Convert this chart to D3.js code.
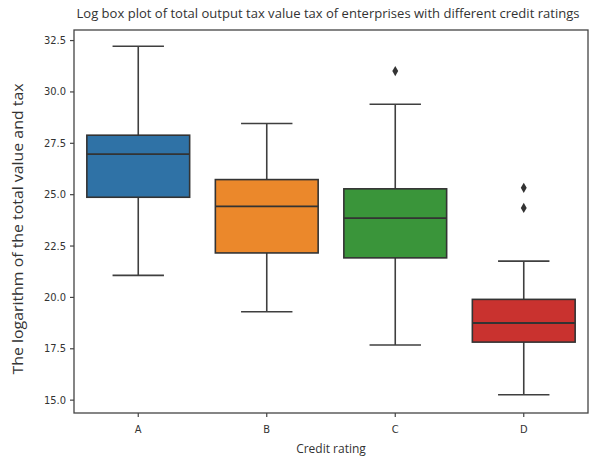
<!DOCTYPE html>
<html>
<head>
<meta charset="utf-8">
<script src="https://cdn.jsdelivr.net/npm/d3@7"></script>
<style>
  body { margin: 0; background: #fff; }
  svg text { font-family: "Open Sans", "Noto Sans", sans-serif; fill: #333; }
</style>
</head>
<body>
<svg id="chart" width="590" height="459"></svg>
<script>
// data
var ratings = ["A", "B", "C", "D"];
var whiskerLow  = [21.05, 19.28, 17.66, 15.24];
var q1          = [24.85, 22.14, 21.90, 17.80];
var median      = [26.95, 24.41, 23.83, 18.73];
var q3          = [27.87, 25.71, 25.26, 19.88];
var whiskerHigh = [32.20, 28.44, 29.38, 21.74];
var outliers    = [[], [], [30.99], [25.31, 24.33]];
var colors = ["#2f72a6", "#eb882b", "#3a953a", "#c9322f"];
var yTicks = [15, 17.5, 20, 22.5, 25, 27.5, 30, 32.5];

var svg = d3.select("#chart");
var margin = {left: 74, right: 2, top: 30, bottom: 46};
var width = 590 - margin.left - margin.right,
    height = 459 - margin.top - margin.bottom;

var g = svg.append("g").attr("transform", "translate(" + margin.left + "," + margin.top + ")");

var x = d3.scaleBand().domain(ratings).range([0, width]).padding(0);
var y = d3.scaleLinear().domain([14.35, 32.99]).range([height, 0]);

var boxW = x.bandwidth() * 0.8,
    capW = boxW * 0.5,
    lineCol = "#3f3f3f";

var boxes = ratings.map(function(r, i) {
  return {r: r, lo: whiskerLow[i], q1: q1[i], med: median[i], q3: q3[i], hi: whiskerHigh[i], out: outliers[i], c: colors[i]};
});

var bg = g.selectAll(".box").data(boxes).enter().append("g")
    .attr("class", "box")
    .attr("transform", function(d) { return "translate(" + (x(d.r) + x.bandwidth() / 2) + ",0)"; });

// whiskers
bg.append("line").attr("x1", 0).attr("x2", 0)
    .attr("y1", function(d) { return y(d.hi); }).attr("y2", function(d) { return y(d.q3); })
    .attr("stroke", lineCol).attr("stroke-width", 1.6);
bg.append("line").attr("x1", 0).attr("x2", 0)
    .attr("y1", function(d) { return y(d.q1); }).attr("y2", function(d) { return y(d.lo); })
    .attr("stroke", lineCol).attr("stroke-width", 1.6);
bg.append("line").attr("x1", -capW / 2).attr("x2", capW / 2)
    .attr("y1", function(d) { return y(d.hi); }).attr("y2", function(d) { return y(d.hi); })
    .attr("stroke", lineCol).attr("stroke-width", 1.6);
bg.append("line").attr("x1", -capW / 2).attr("x2", capW / 2)
    .attr("y1", function(d) { return y(d.lo); }).attr("y2", function(d) { return y(d.lo); })
    .attr("stroke", lineCol).attr("stroke-width", 1.6);

// box + median
bg.append("rect")
    .attr("x", -boxW / 2).attr("width", boxW)
    .attr("y", function(d) { return y(d.q3); })
    .attr("height", function(d) { return y(d.q1) - y(d.q3); })
    .attr("fill", function(d) { return d.c; })
    .attr("stroke", "#333").attr("stroke-width", 1.6);
bg.append("line").attr("x1", -boxW / 2).attr("x2", boxW / 2)
    .attr("y1", function(d) { return y(d.med); }).attr("y2", function(d) { return y(d.med); })
    .attr("stroke", "#333").attr("stroke-width", 1.8);

// outliers (diamonds)
bg.selectAll(".out").data(function(d) { return d.out; }).enter().append("path")
    .attr("class", "out")
    .attr("d", d3.symbol().type(d3.symbolDiamond).size(30))
    .attr("transform", function(v) { return "translate(0," + y(v) + ")"; })
    .attr("fill", "#333");

// axes
var yAxis = g.append("g").call(d3.axisLeft(y).tickValues(yTicks).tickFormat(d3.format(".1f")).tickSize(4).tickPadding(4));
var xAxis = g.append("g").attr("transform", "translate(0," + height + ")")
    .call(d3.axisBottom(x).tickSize(4).tickPadding(8));
[yAxis, xAxis].forEach(function(a) {
  a.select(".domain").remove();
  a.selectAll(".tick line").attr("stroke", "#444").attr("stroke-width", 1.2);
  a.selectAll(".tick text").attr("fill", "#333").style("font-size", "11px")
    .style("font-family", "'DejaVu Sans Condensed', 'DejaVu Sans', sans-serif");
});

// frame
g.append("rect").attr("width", width).attr("height", height)
    .attr("fill", "none").attr("stroke", "#444").attr("stroke-width", 1.3);

// labels
svg.append("text").attr("x", 328).attr("y", 18)
    .attr("text-anchor", "middle").style("font-size", "12.5px")
    .attr("textLength", 503).attr("lengthAdjust", "spacingAndGlyphs")
    .text("Log box plot of total output tax value tax of enterprises with different credit ratings");
svg.append("text").attr("x", margin.left + width / 2).attr("y", 453)
    .attr("text-anchor", "middle").style("font-size", "12px")
    .text("Credit rating");
svg.append("text").attr("transform", "translate(23,229) rotate(-90)")
    .attr("text-anchor", "middle").style("font-size", "14px")
    .attr("textLength", 291).attr("lengthAdjust", "spacingAndGlyphs")
    .text("The logarithm of the total value and tax");
</script>
</body>
</html>
